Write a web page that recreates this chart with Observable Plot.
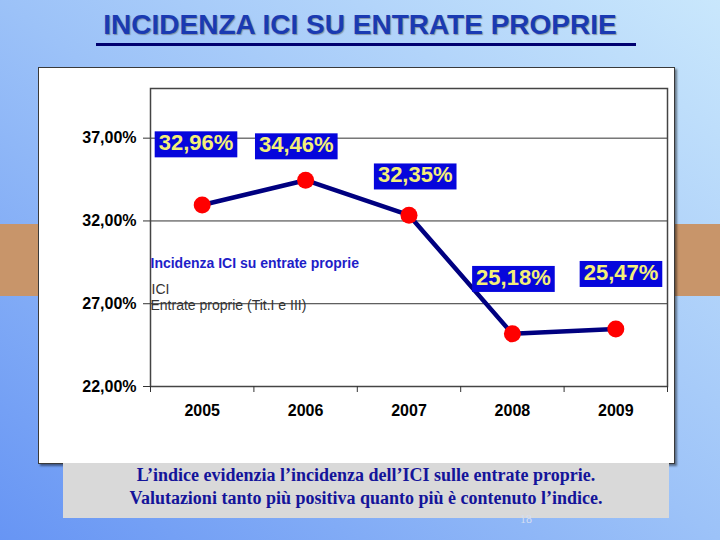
<!DOCTYPE html>
<html>
<head>
<meta charset="utf-8">
<script src="https://cdn.jsdelivr.net/npm/d3@7"></script>
<script src="https://cdn.jsdelivr.net/npm/@observablehq/plot@0.6"></script>
<style>
  html, body { margin: 0; padding: 0; }
  body { width: 720px; height: 540px; overflow: hidden; position: relative;
    background: linear-gradient(to top right, #6795f4 0%, #9cc2f8 50%, #c9e7fc 100%);
    font-family: "Liberation Sans", Arial, sans-serif; }
  .band { position: absolute; top: 224px; height: 72px; background: #c8956a; }
  #title { position: absolute; left: 0; width: 720px; top: 11px; text-align: center;
    font: bold 28px/28px "Liberation Sans", Arial, sans-serif; color: #1a3ab2;
    text-shadow: 1px 1px 1px rgba(80,80,80,0.5); }
  #rule { position: absolute; left: 96px; width: 540px; top: 43px; height: 3px; background: #000070; }
  #panel { position: absolute; left: 38px; top: 67px; width: 635px; height: 395px;
    background: #fff; border: 1px solid #3a3a3a; box-shadow: 2px 2px 2px rgba(0,0,0,0.45); }
  #panel svg { display: block; }
  #caption { position: absolute; left: 63px; top: 463px; width: 606px; height: 55px;
    background: #d9d9d9; text-align: center; color: #14149a;
    font: bold 18px/23px "Liberation Serif", "Times New Roman", serif; padding-top: 1px; box-sizing: border-box; }
  #page { position: absolute; left: 520px; top: 512px; font: 12px "Liberation Serif", serif; color: #d4def2; }
</style>
</head>
<body>
<div class="band" style="left:0;width:40px"></div>
<div class="band" style="left:674px;width:46px"></div>
<div id="title">INCIDENZA ICI SU ENTRATE PROPRIE</div>
<div id="rule"></div>
<div id="panel"></div>
<div id="caption">L’indice evidenzia l’incidenza dell’ICI sulle entrate proprie.<br>Valutazioni tanto più positiva quanto più è contenuto l’indice.</div>
<div id="page">18</div>
<script>
const years = [2005, 2006, 2007, 2008, 2009];
const values = [32.96, 34.46, 32.35, 25.18, 25.47];
// label anchor positions (data units)
const labelX = [2004.94, 2005.91, 2007.06, 2008.01, 2009.05];
const labelY = [36.69, 36.57, 34.75, 28.56, 28.86];
const yTicks = [22, 27, 32, 37];
const legendLines = ["Incidenza ICI su entrate proprie", "ICI", "Entrate proprie (Tit.I e III)"];

const data = years.map((y, i) => ({year: y, value: values[i], lx: labelX[i], ly: labelY[i]}));
const bounds = [years[0] - 0.5, ...years.map(y => y + 0.5)];
const pct = v => v.toFixed(2).replace(".", ",") + "%";
const labelFill = "#f4ef78";

const chart = Plot.plot({
  width: 635,
  height: 395,
  marginLeft: 111,
  marginRight: 7,
  marginTop: 20,
  marginBottom: 77,
  style: {background: "#fff", fontFamily: "'Liberation Sans', Arial, sans-serif", color: "#000"},
  x: {domain: [bounds[0], bounds[bounds.length - 1]], axis: null},
  y: {domain: [22, 40], axis: null},
  marks: [
    Plot.gridY(yTicks.slice(1), {stroke: "#333", strokeOpacity: 1, strokeWidth: 1}),
    Plot.frame({stroke: "#444", strokeWidth: 1.5}),
    Plot.axisY(yTicks, {tickSize: 7, tickPadding: 7, tickFormat: pct, fontSize: 16, fontWeight: "bold", stroke: "#333"}),
    Plot.axisX(bounds, {tickSize: 6, tickFormat: () => "", stroke: "#333"}),
    Plot.axisX(years, {tickSize: 0, tickPadding: 18, tickFormat: d => String(d), fontSize: 16, fontWeight: "bold"}),
    Plot.text([legendLines[0]], {text: d => d, frameAnchor: "top-left", dy: 175, lineAnchor: "middle", textAnchor: "start", fill: "#1e1ec8", fontSize: 14, fontWeight: "bold"}),
    Plot.text([legendLines[1]], {text: d => d, frameAnchor: "top-left", dx: 1, dy: 201, lineAnchor: "middle", textAnchor: "start", fill: "#333", fontSize: 14}),
    Plot.text([legendLines[2]], {text: d => d, frameAnchor: "top-left", dy: 217, lineAnchor: "middle", textAnchor: "start", fill: "#333", fontSize: 14}),
    Plot.line(data, {x: "year", y: "value", stroke: "#000080", strokeWidth: 4.5}),
    Plot.dot(data, {x: "year", y: "value", r: 8.5, fill: "#ff0000", stroke: "none"}),
    Plot.text(data, {x: "lx", y: "ly", text: d => pct(d.value), fill: labelFill, fontSize: 22, fontWeight: "bold", lineAnchor: "middle"})
  ]
});
document.getElementById("panel").appendChild(chart);

// blue boxes behind the value labels, sized from the rendered text
const ns = "http://www.w3.org/2000/svg";
chart.querySelectorAll('g[fill="' + labelFill + '"] text').forEach(t => {
  const b = t.getBBox();
  const r = document.createElementNS(ns, "rect");
  r.setAttribute("x", b.x - 4);
  r.setAttribute("y", b.y + 1);
  r.setAttribute("width", b.width + 8);
  r.setAttribute("height", b.height + 1);
  r.setAttribute("fill", "#0606dc");
  const tr = t.getAttribute("transform");
  if (tr) r.setAttribute("transform", tr);
  t.parentNode.insertBefore(r, t);
});
</script>
</body>
</html>
